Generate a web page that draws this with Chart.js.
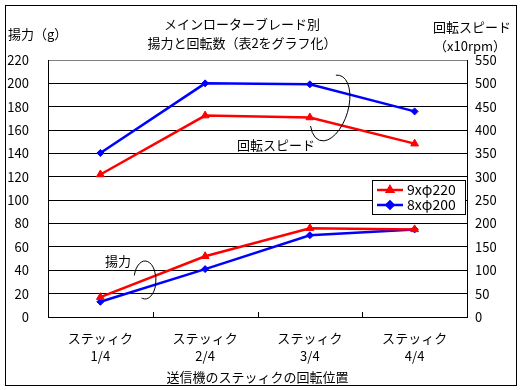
<!DOCTYPE html>
<html>
<head>
<meta charset="utf-8">
<script src="https://cdn.jsdelivr.net/npm/chart.js@4/dist/chart.umd.min.js"></script>
<style>
body { margin: 0; background: #fff; }
</style>
</head>
<body>
<canvas id="graficoLinha" width="525" height="390"></canvas>
<script>
// posicoes da stick
var categorias = [['ステッィク', '1/4'], ['ステッィク', '2/4'], ['ステッィク', '3/4'], ['ステッィク', '4/4']];
var nomesSeries = ['9xφ220', '8xφ200'];

// 揚力 (g) - eixo esquerdo
var liftVermelho = [17, 52, 76, 75];
var liftAzul = [13, 41, 70, 75];

// 回転スピード (x10rpm) - eixo direito
var rpmVermelho = [305, 431, 427, 371];
var rpmAzul = [351, 500, 498, 440];

var eixoEsq = { min: 0, max: 220, passo: 20 };
var eixoDir = { min: 0, max: 550, passo: 50 };

var fonte = "'Noto Sans CJK JP', 'DejaVu Sans', sans-serif";
Chart.defaults.font.family = fonte;
Chart.defaults.font.size = 13;
Chart.defaults.color = '#000';

var enfeites = {
    id: 'enfeites',
    afterDraw: function(chart) {
        var ctx = chart.ctx;
        var area = chart.chartArea;
        var x = chart.scales.x;
        ctx.save();

        // moldura externa
        ctx.strokeStyle = '#000';
        ctx.lineWidth = 1;
        ctx.strokeRect(5.5, 5.5, 511, 380);

        // tracinhos do eixo x (para dentro)
        for (var i = 0; i < categorias.length - 1; i++) {
            var px = Math.round((x.getPixelForValue(i) + x.getPixelForValue(i + 1)) / 2) + 0.5;
            ctx.beginPath();
            ctx.moveTo(px, area.bottom);
            ctx.lineTo(px, area.bottom - 5);
            ctx.stroke();
        }

        // titulos
        ctx.fillStyle = '#000';
        ctx.font = '13px ' + fonte;
        ctx.textBaseline = 'middle';
        ctx.textAlign = 'center';
        ctx.fillText('メインローターブレード別', 242, 24);
        ctx.fillText('揚力と回転数（表2をグラフ化）', 242, 43);
        ctx.textAlign = 'left';
        ctx.fillText('揚力（g）', 8, 34);
        ctx.fillText('回転スピード', 433, 27);
        ctx.fillText('（x10rpm）', 434, 46);

        // notas
        ctx.fillText('回転スピード', 237, 145);
        ctx.fillText('揚力', 105, 261);

        ctx.lineWidth = 1;
        ctx.beginPath();
        ctx.ellipse(330, 108, 18, 34, 0.3, -1.8, 2.4);
        ctx.stroke();
        ctx.beginPath();
        ctx.ellipse(145, 280, 11, 19, 0, -2.9, 1.9);
        ctx.stroke();

        // legenda
        ctx.fillStyle = '#fff';
        ctx.fillRect(372, 180, 93, 34);
        ctx.strokeRect(372.5, 180.5, 93, 34);
        var linhasY = [190, 205];
        var cores = ['#ff0000', '#0000ff'];
        var estilos = ['triangle', 'rectRot'];
        for (var j = 0; j < 2; j++) {
            ctx.strokeStyle = cores[j];
            ctx.fillStyle = cores[j];
            ctx.lineWidth = 2.5;
            ctx.beginPath();
            ctx.moveTo(377, linhasY[j]);
            ctx.lineTo(403, linhasY[j]);
            ctx.stroke();
            Chart.helpers.drawPoint(ctx, { pointStyle: estilos[j], radius: 3.5, borderWidth: 1 }, 390, linhasY[j]);
            ctx.fillStyle = '#000';
            ctx.font = '14px ' + fonte;
            ctx.fillText(nomesSeries[j], 407, linhasY[j]);
        }
        ctx.restore();
    }
};

function serie(nome, dados, cor, estilo, eixo) {
    return {
        label: nome,
        data: dados,
        yAxisID: eixo,
        borderColor: cor,
        backgroundColor: cor,
        borderWidth: 2.5,
        pointStyle: estilo,
        pointRadius: estilo === 'triangle' ? 4.5 : 3.5,
        pointBorderWidth: 1,
        tension: 0
    };
}

var ctx = document.getElementById('graficoLinha').getContext('2d');
var meuGrafico = new Chart(ctx, {
    type: 'line',
    data: {
        labels: categorias,
        datasets: [
            serie(nomesSeries[0], liftVermelho, '#ff0000', 'triangle', 'y'),
            serie(nomesSeries[1], liftAzul, '#0000ff', 'rectRot', 'y'),
            serie(nomesSeries[0], rpmVermelho, '#ff0000', 'triangle', 'y1'),
            serie(nomesSeries[1], rpmAzul, '#0000ff', 'rectRot', 'y1')
        ]
    },
    plugins: [enfeites],
    options: {
        responsive: false,
        animation: false,
        layout: { padding: { top: 60, left: 0, right: 0, bottom: 0 } },
        plugins: {
            legend: { display: false },
            tooltip: { enabled: false }
        },
        scales: {
            x: {
                offset: true,
                grid: { display: false },
                border: { display: true, color: '#000' },
                ticks: { padding: 4, maxRotation: 0, font: { size: 13, lineHeight: 1.4 } },
                title: {
                    display: true,
                    text: '送信機のステッィクの回転位置',
                    padding: { top: 4, bottom: 4 },
                    font: { size: 13, lineHeight: 1.3 }
                },
                afterFit: function(s) { s.height = 73; }
            },
            y: {
                position: 'left',
                min: eixoEsq.min,
                max: eixoEsq.max,
                ticks: { stepSize: eixoEsq.passo, padding: 19 },
                grid: {
                    drawTicks: false,
                    color: function(c) { return c.tick && c.tick.value === eixoEsq.max ? '#808080' : '#000'; }
                },
                border: { color: '#000' },
                afterFit: function(s) { s.width = 48; }
            },
            y1: {
                position: 'right',
                min: eixoDir.min,
                max: eixoDir.max,
                ticks: { stepSize: eixoDir.passo, padding: 8 },
                grid: { display: false, drawTicks: false },
                border: { color: '#000' },
                afterFit: function(s) { s.width = 58; }
            }
        }
    }
});
</script>
</body>
</html>
